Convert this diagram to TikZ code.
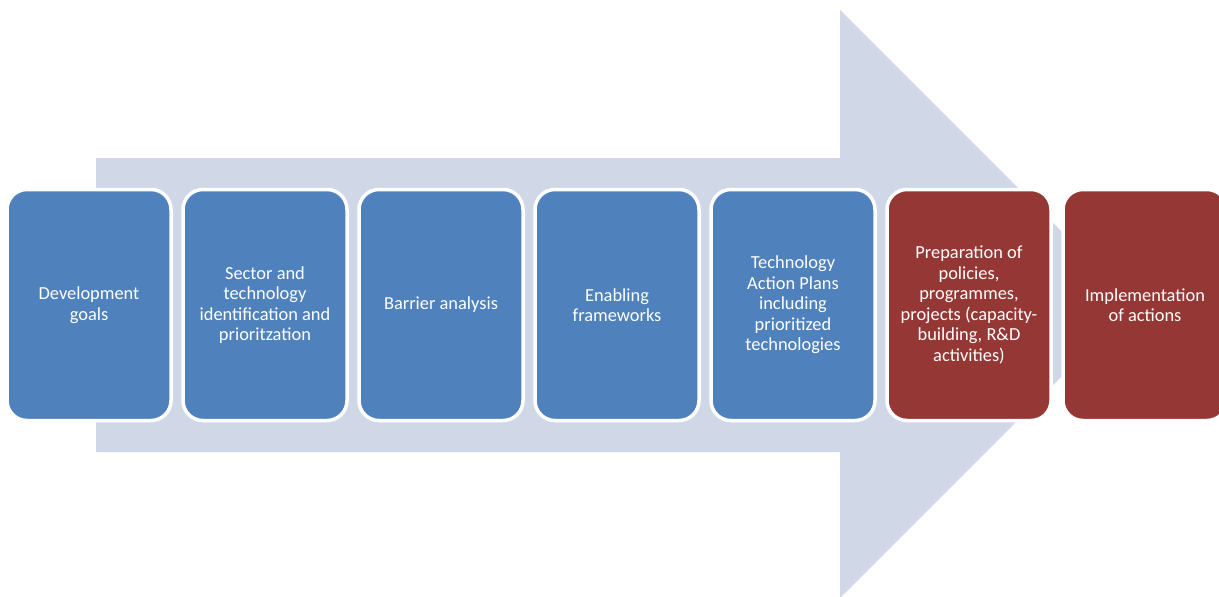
\documentclass[tikz,border=0pt]{standalone}
\usepackage{fontspec}
\setmainfont{Carlito}
\definecolor{arrowcol}{HTML}{D0D8E8}
\definecolor{bluebox}{HTML}{4F81BD}
\definecolor{redbox}{HTML}{953735}
\begin{document}
\begin{tikzpicture}[x=1pt,y=-1pt,
  stage/.style={rectangle, rounded corners=20pt, draw=white, line width=3.5pt,
    minimum width=164pt, minimum height=231pt, text=white, align=center,
    font=\fontsize{18.4}{20.5}\selectfont, inner sep=0pt},
  bluestage/.style={stage, fill=bluebox},
  redstage/.style={stage, fill=redbox}]
\useasboundingbox (0,0) rectangle (1219,597);
\clip (0,0) rectangle (1219,597);
\fill[arrowcol] (96,158) -- (840,158) -- (840,10) -- (1134,304) -- (840,598) -- (840,452) -- (96,452) -- cycle;
\node[bluestage] (s1) at (89,305) {Development\\goals};
\node[bluestage] (s2) at (265,305) {Sector and\\technology\\identification and\\prioritzation};
\node[bluestage] (s3) at (441,305) {Barrier analysis};
\node[bluestage] (s4) at (617,305) {Enabling\\frameworks};
\node[bluestage] (s5) at (793,305) {Technology\\Action Plans\\including\\prioritized\\technologies};
\node[redstage] (s6) at (969,305) {Preparation of\\policies,\\programmes,\\projects (capacity-\\building, R\&D\\activities)};
\node[redstage] (s7) at (1145,305) {Implementation\\of actions};
\end{tikzpicture}
\end{document}
